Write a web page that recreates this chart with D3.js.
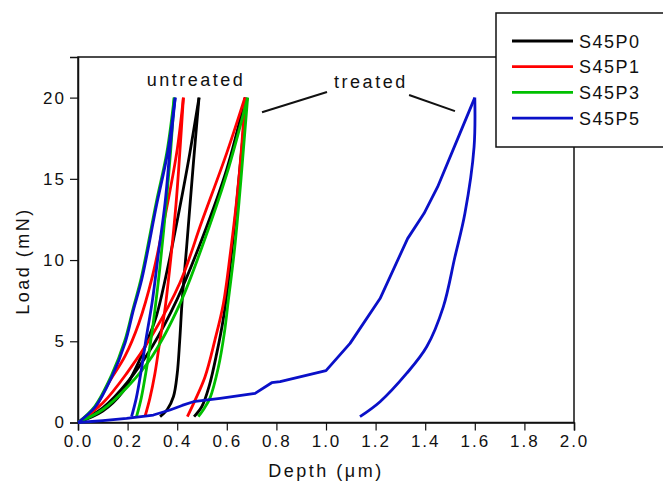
<!DOCTYPE html>
<html>
<head>
<meta charset="utf-8">
<script src="https://cdn.jsdelivr.net/npm/d3@7"></script>
<style>
  body { margin: 0; background: #fff; }
  text { font-family: Arial, "Liberation Sans", sans-serif; fill: #111; }
</style>
</head>
<body>
<svg width="663" height="488"></svg>
<script>
// tick values
const depthTicks = [0, 0.2, 0.4, 0.6, 0.8, 1.0, 1.2, 1.4, 1.6, 1.8, 2.0];
const loadTicks = [0, 5, 10, 15, 20];

// [depth (um), load (mN)]
// untreated
const p0LoadU = [[0,0],[0.1,0.7],[0.176,1.8],[0.25,3.9],[0.284,5.2],[0.317,6.6],[0.36,9.4],[0.41,13.2],[0.45,16.5],[0.488,20]];
const p0UnloadU = [[0.488,20],[0.465,15.9],[0.438,10.8],[0.42,7.5],[0.41,5.0],[0.4,3.0],[0.385,1.6],[0.36,0.8],[0.331,0.36]];
const p1LoadU = [[0,0],[0.06,0.7],[0.122,2.4],[0.19,4.1],[0.245,6.1],[0.3,9.0],[0.36,13.4],[0.4,16.8],[0.425,20]];
const p1UnloadU = [[0.425,20],[0.41,16.5],[0.395,13.4],[0.37,9.5],[0.35,6.9],[0.33,5.0],[0.31,3.0],[0.29,1.5],[0.27,0.36]];
const p3LoadU = [[0,0],[0.068,1.0],[0.135,2.9],[0.188,5.0],[0.222,7.0],[0.255,8.9],[0.315,13.5],[0.358,16.6],[0.388,20]];
const p3UnloadU = [[0.388,20],[0.375,17],[0.357,13.7],[0.33,9.5],[0.31,6.9],[0.295,5.2],[0.275,3.2],[0.255,1.5],[0.236,0.36]];
const p5LoadU = [[0,0],[0.07,0.97],[0.136,2.8],[0.19,4.9],[0.223,6.9],[0.257,8.8],[0.317,13.4],[0.36,16.5],[0.392,20]];
const p5UnloadU = [[0.392,20],[0.372,17],[0.351,13.5],[0.325,10.5],[0.3,7.5],[0.275,5.2],[0.255,3.2],[0.235,1.5],[0.216,0.36]];

// treated
const p0LoadT = [[0,0],[0.1,0.9],[0.2,2.5],[0.3,4.7],[0.4,7.6],[0.5,11.3],[0.6,15.6],[0.675,20]];
const p0UnloadT = [[0.675,20],[0.667,18],[0.652,15.5],[0.63,12],[0.605,8.5],[0.585,6.3],[0.56,4.3],[0.53,2.3],[0.5,1.0],[0.468,0.36]];
const p1LoadT = [[0,0],[0.1,1.2],[0.2,3.1],[0.3,5.4],[0.411,8.6],[0.5,12.4],[0.6,16.6],[0.673,20]];
const p1UnloadT = [[0.673,20],[0.66,17],[0.64,13.7],[0.615,10.5],[0.586,7.3],[0.552,5.07],[0.512,2.8],[0.47,1.3],[0.441,0.36]];
const p3LoadT = [[0,0],[0.1,0.8],[0.2,2.2],[0.3,4.1],[0.411,7.3],[0.5,10.8],[0.6,15.3],[0.684,20]];
const p3UnloadT = [[0.684,20],[0.668,17],[0.65,13.7],[0.63,10.5],[0.606,7.5],[0.59,5.5],[0.566,3.4],[0.532,1.5],[0.51,0.9],[0.485,0.36]];
const p5LoadT = [[0,0],[0.1,0.12],[0.196,0.26],[0.304,0.46],[0.371,0.77],[0.42,1.05],[0.465,1.28],[0.573,1.49],[0.714,1.79],[0.781,2.45],[0.815,2.51],[1.0,3.19],[1.097,4.87],[1.218,7.63],[1.329,11.32],[1.395,12.86],[1.45,14.5],[1.54,17.8],[1.6,20]];
const p5UnloadT = [[1.6,20],[1.597,16.95],[1.56,12.86],[1.52,10.2],[1.473,7.12],[1.406,4.66],[1.325,3.02],[1.218,1.28],[1.137,0.36]];

const names = ['S45P0', 'S45P1', 'S45P3', 'S45P5'];
const colours = ['#000000', '#ff0000', '#00c000', '#0a10c8'];

// annotation anchors, data units
const labelUntreated = [0.476, 20.7];
const labelTreated = [1.181, 20.6];
const pointerLines = [
  [[0.742, 19.1], [1.004, 20.35]],
  [[1.335, 20.16], [1.52, 19.17]]
];

const svg = d3.select('svg');
const margin = {top: 57, right: 89, bottom: 65.5, left: 78};
const graphWidth = 663 - margin.left - margin.right;
const graphHeight = 488 - margin.top - margin.bottom;

const graph = svg.append('g')
  .attr('transform', `translate(${margin.left},${margin.top})`);

const x = d3.scaleLinear().domain([0, 2]).range([0, graphWidth]);
const y = d3.scaleLinear().domain([0, 22.5]).range([graphHeight, 0]);

// frame
graph.append('rect')
  .attr('width', graphWidth).attr('height', graphHeight)
  .attr('fill', 'none').attr('stroke', '#111').attr('stroke-width', 1.5);

// minor ticks
const xMinor = d3.range(0.1, 2, 0.2);
const yMinor = [2.5, 7.5, 12.5, 17.5];

const xAxisGroup = graph.append('g').attr('transform', `translate(0,${graphHeight})`);
const yAxisGroup = graph.append('g');

xAxisGroup.call(d3.axisBottom(x).tickValues(xMinor).tickSize(4).tickFormat(''));
xAxisGroup.call(d3.axisBottom(x).tickValues(depthTicks).tickSize(8).tickPadding(4)
  .tickFormat(d3.format('.1f')));
yAxisGroup.call(d3.axisLeft(y).tickValues(yMinor).tickSize(4).tickFormat(''));
yAxisGroup.call(d3.axisLeft(y).tickValues(loadTicks).tickSize(8).tickPadding(4));

graph.selectAll('.domain').attr('stroke', '#111').attr('stroke-width', 1.5);
graph.selectAll('.tick line').attr('stroke', '#111').attr('stroke-width', 1.2);
xAxisGroup.selectAll('text')
  .style('font-size', '17px').style('letter-spacing', '2px').attr('fill', '#111');
yAxisGroup.selectAll('text')
  .style('font-size', '17px').style('letter-spacing', '2px').attr('fill', '#111');

// axis titles
svg.append('text')
  .attr('x', margin.left + graphWidth / 2).attr('y', 477)
  .attr('text-anchor', 'middle')
  .style('font-size', '18px').style('letter-spacing', '2.5px')
  .text('Depth (μm)');

svg.append('text')
  .attr('transform', 'translate(29,261) rotate(-90)')
  .attr('text-anchor', 'middle')
  .style('font-size', '18px').style('letter-spacing', '2.5px')
  .text('Load (mN)');

// curves
const line = d3.line()
  .x(d => x(d[0]))
  .y(d => y(d[1]))
  .curve(d3.curveCatmullRom.alpha(0.5));
const straight = d3.line()
  .x(d => x(d[0]))
  .y(d => y(d[1]));

const curves = [
  {c: 0, pts: [p0LoadU, p0UnloadU, p0LoadT, p0UnloadT]},
  {c: 1, pts: [p1LoadU, p1UnloadU, p1LoadT, p1UnloadT]},
  {c: 2, pts: [p3LoadU, p3UnloadU, p3LoadT, p3UnloadT]},
  {c: 3, pts: [p5LoadU, p5UnloadU, p5UnloadT]}
];

curves.forEach(s => {
  s.pts.forEach(p => {
    graph.append('path')
      .attr('d', line(p))
      .attr('fill', 'none')
      .attr('stroke', colours[s.c])
      .attr('stroke-width', 2.8)
      .attr('stroke-linejoin', 'round');
  });
  if (s.c === 3) {
    graph.append('path')
      .attr('d', straight(p5LoadT))
      .attr('fill', 'none')
      .attr('stroke', colours[3])
      .attr('stroke-width', 2.8)
      .attr('stroke-linejoin', 'round');
  }
});

// annotations
graph.append('text')
  .attr('x', x(labelUntreated[0])).attr('y', y(labelUntreated[1]))
  .attr('text-anchor', 'middle')
  .style('font-size', '18px').style('letter-spacing', '2.5px')
  .text('untreated');
graph.append('text')
  .attr('x', x(labelTreated[0])).attr('y', y(labelTreated[1]))
  .attr('text-anchor', 'middle')
  .style('font-size', '18px').style('letter-spacing', '2.5px')
  .text('treated');
graph.selectAll('.pointer')
  .data(pointerLines)
  .enter().append('line')
  .attr('x1', d => x(d[0][0])).attr('y1', d => y(d[0][1]))
  .attr('x2', d => x(d[1][0])).attr('y2', d => y(d[1][1]))
  .attr('stroke', '#111').attr('stroke-width', 2);

// legend
const legend = svg.append('g').attr('transform', 'translate(496,13)');
legend.append('rect')
  .attr('width', 200).attr('height', 134)
  .attr('fill', '#fff').attr('stroke', '#111').attr('stroke-width', 1.5);
const items = legend.selectAll('.item')
  .data(names)
  .enter().append('g')
  .attr('transform', (d, i) => `translate(0,${28 + i * 25.7})`);
items.append('line')
  .attr('x1', 16).attr('x2', 77)
  .attr('stroke', (d, i) => colours[i]).attr('stroke-width', 2.8);
items.append('text')
  .attr('x', 83).attr('y', 6.5)
  .style('font-size', '18px').style('letter-spacing', '1.5px')
  .text(d => d);
</script>
</body>
</html>
